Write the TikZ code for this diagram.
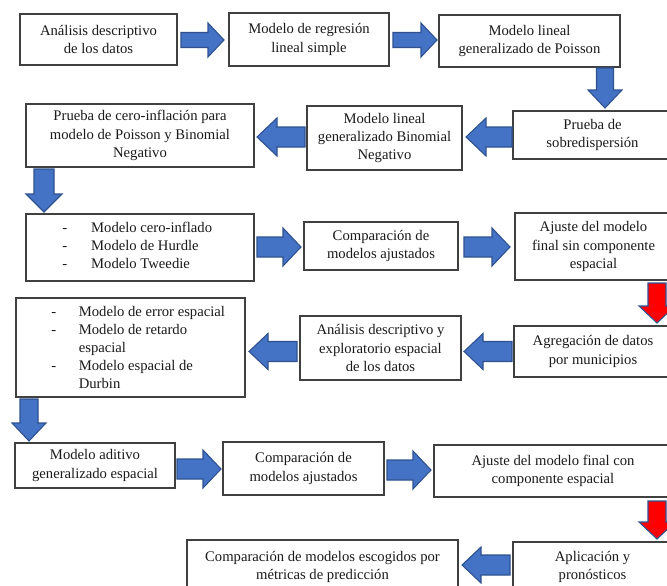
\documentclass[tikz,border=0pt]{standalone}
\usepackage{fontspec}
\setmainfont{Liberation Serif}
\usetikzlibrary{calc}
\definecolor{arrowblue}{HTML}{4472C4}
\definecolor{arrowedge}{HTML}{2F528F}
\definecolor{arrowred}{HTML}{FF0000}
\definecolor{boxline}{HTML}{404040}
\definecolor{textcol}{HTML}{1A1A1A}
% #1 style, #2 start, #3 tip, #4 shaft half width, #5 head half width, #6 head length (px)
\newcommand{\blockarrow}[6]{%
  \coordinate (hb) at ($(#3)!#6*0.75pt!(#2)$);
  \path[#1] ($(#2)!#4*0.75pt!90:(#3)$) -- ($(hb)!#4*0.75pt!90:(#3)$)
    -- ($(hb)!#5*0.75pt!90:(#3)$) -- (#3) -- ($(hb)!#5*0.75pt!-90:(#3)$)
    -- ($(hb)!#4*0.75pt!-90:(#3)$) -- ($(#2)!#4*0.75pt!-90:(#3)$) -- cycle;}
% box node from pixel corners: #2 left, #3 top, #4 right, #5 bottom, #6 name
\newcommand{\pbox}[6][]{\node[box,#1,minimum width={(#4-#2)*0.75pt},
  minimum height={(#5-#3)*0.75pt}] (#6) at ({(#2+#4)/2},{(#3+#5)/2})}
\begin{document}
\begin{tikzpicture}[x=0.75pt,y=-0.75pt,
  box/.style={draw=boxline, line width=1pt, inner sep=0pt, outer sep=0pt,
    font=\fontsize{11}{13.6}\selectfont, text=textcol, align=center},
  listtext/.style={inner sep=0pt, font=\fontsize{11}{13.6}\selectfont, text=textcol},
  barrow/.style={fill=arrowblue, draw=arrowedge, line width=0.8pt},
  rarrow/.style={fill=arrowred, draw=arrowedge, line width=0.8pt}]
\useasboundingbox (0,0) rectangle (667,585);
\clip (0,0) rectangle (667,585);
\fill[white] (0,0) rectangle (667,585);

% Row 1
\pbox{20}{14}{177}{65}{b1} {Análisis descriptivo\\de los datos};
\pbox{229}{13}{389}{66}{b2} {Modelo de regresión\\lineal simple};
\pbox{439}{15}{620}{67}{b3} {Modelo lineal\\generalizado de Poisson};
% Row 2
\pbox{513}{111}{672}{159}{b4} {Prueba de\\sobredispersión};
\pbox{307}{106}{462}{170}{b5} {Modelo lineal\\generalizado Binomial\\Negativo};
\pbox{26}{104}{254}{167}{b6} {Prueba de cero-inflación para\\modelo de Poisson y Binomial\\Negativo};
% Row 3
\pbox{26}{214}{254}{281}{b7} {};
\node[listtext, anchor=west] (l7) at (62,247) {\begin{tabular}{@{}l@{\hspace{18pt}}l@{}}
-&Modelo cero-inflado\\ -&Modelo de Hurdle\\ -&Modelo Tweedie\end{tabular}};
\pbox{304}{222}{458}{270}{b8} {Comparación de\\modelos ajustados};
\pbox{515}{213}{672}{280}{b9} {Ajuste del modelo\\final sin componente\\espacial};
% Row 4
\pbox{514}{326}{672}{377}{b10} {Agregación de datos\\por municipios};
\pbox{300}{316}{461}{380}{b11} {Análisis descriptivo y\\exploratorio espacial\\de los datos};
\pbox{16}{298}{245}{397}{b12} {};
\node[listtext, anchor=west] (l12) at (51,349) {\begin{tabular}{@{}l@{\hspace{17pt}}l@{}}
-&Modelo de error espacial\\ -&Modelo de retardo\\ &espacial\\ -&Modelo espacial de\\ &Durbin\end{tabular}};
% Row 5
\pbox{15}{443}{175}{488}{b13} {Modelo aditivo\\generalizado espacial};
\pbox{223}{442}{384}{495}{b14} {Comparación de\\modelos ajustados};
\pbox{434}{445}{672}{497}{b15} {Ajuste del modelo final con\\componente espacial};
% Row 6
\pbox{513}{542}{672}{592}{b16} {Aplicación y\\pronósticos};
\pbox{187}{540}{458}{594}{b17} {Comparación de modelos escogidos por\\métricas de predicción};

% Connectors
\coordinate (a1s) at ($(b1.east)+(4,0.5)$);   \coordinate (a1e) at ($(b2.west)+(-5,0.5)$);
\blockarrow{barrow}{a1s}{a1e}{7.5}{17}{16}
\coordinate (a2s) at ($(b2.east)+(4,0.5)$);   \coordinate (a2e) at ($(b3.west)+(-2,-1)$);
\blockarrow{barrow}{a2s}{a2e}{7.5}{17}{16}
\coordinate (d1s) at ($(b3.south east)+(-15,1)$); \coordinate (d1e) at ($(b4.north west)+(92,-3)$);
\blockarrow{barrow}{d1s}{d1e}{8.5}{17}{18}
\coordinate (a3s) at ($(b4.west)+(-1,2)$);    \coordinate (a3e) at ($(b5.east)+(4,-1)$);
\blockarrow{barrow}{a3s}{a3e}{10}{19}{20}
\coordinate (a4s) at ($(b5.west)+(-2,-1)$);   \coordinate (a4e) at ($(b6.east)+(3,1.5)$);
\blockarrow{barrow}{a4s}{a4e}{10}{19}{20}
\coordinate (d2s) at ($(b6.south west)+(18,2)$); \coordinate (d2e) at ($(b7.north west)+(18,-2)$);
\blockarrow{barrow}{d2s}{d2e}{10}{18}{18}
\coordinate (a5s) at ($(b7.east)+(3,-0.5)$);  \coordinate (a5e) at ($(b8.west)+(-3,1)$);
\blockarrow{barrow}{a5s}{a5e}{10}{19}{18}
\coordinate (a6s) at ($(b8.east)+(6,1)$);     \coordinate (a6e) at ($(b9.west)+(-5,0.5)$);
\blockarrow{barrow}{a6s}{a6e}{10}{19}{18}
\coordinate (r1s) at ($(b9.south east)+(-15,3)$); \coordinate (r1e) at ($(b10.north east)+(-15,-3)$);
\blockarrow{rarrow}{r1s}{r1e}{9}{18}{17}
\coordinate (a7s) at ($(b10.west)+(-2,0)$);   \coordinate (a7e) at ($(b11.east)+(3,3.5)$);
\blockarrow{barrow}{a7s}{a7e}{10}{18}{19}
\coordinate (a8s) at ($(b11.west)+(-3,3.5)$); \coordinate (a8e) at ($(b12.east)+(4,4)$);
\blockarrow{barrow}{a8s}{a8e}{10}{18}{19}
\coordinate (d3s) at ($(b12.south west)+(13,2)$); \coordinate (d3e) at ($(b13.north west)+(14,-2)$);
\blockarrow{barrow}{d3s}{d3e}{9}{17}{18}
\coordinate (a9s) at ($(b13.east)+(2,3.5)$);  \coordinate (a9e) at ($(b14.west)+(-2,0.5)$);
\blockarrow{barrow}{a9s}{a9e}{10}{19}{18}
\coordinate (a10s) at ($(b14.east)+(3,1.5)$); \coordinate (a10e) at ($(b15.west)+(-3,-1)$);
\blockarrow{barrow}{a10s}{a10e}{10}{19}{18}
\coordinate (r2s) at ($(b15.south east)+(-15,4)$); \coordinate (r2e) at ($(b16.north east)+(-15,-3)$);
\blockarrow{rarrow}{r2s}{r2e}{9}{18}{17}
\coordinate (a11s) at ($(b16.west)+(-3,-2)$); \coordinate (a11e) at ($(b17.east)+(4,-2)$);
\blockarrow{barrow}{a11s}{a11e}{10}{18}{19}
\end{tikzpicture}
\end{document}
